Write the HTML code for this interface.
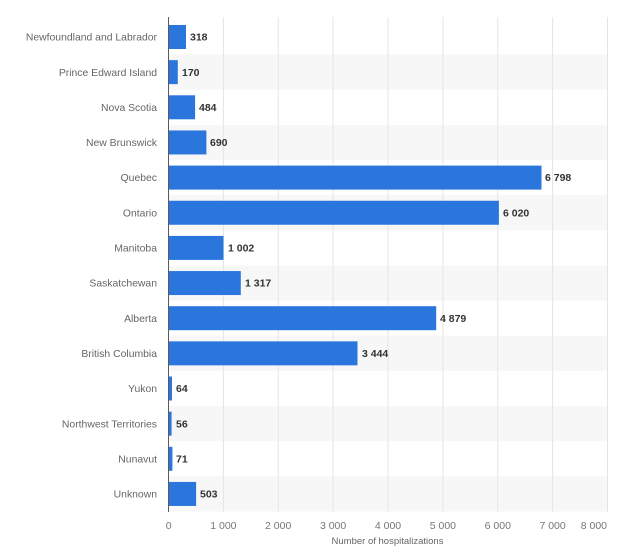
<!DOCTYPE html>
<html>
<head>
<meta charset="utf-8">
<style>
  html,body{margin:0;padding:0;background:#fff;}
  svg{display:block;}
  text{font-family:"Liberation Sans",Arial,sans-serif;}
</style>
</head>
<body>
<svg width="628" height="552" viewBox="0 0 628 552" xmlns="http://www.w3.org/2000/svg">
  <rect x="0" y="0" width="628" height="552" fill="#ffffff"/>
  <!-- alternating bands (odd rows) -->
  <g fill="#f7f7f7">
    <rect x="168.5" y="54.55" width="439" height="35.15"/>
    <rect x="168.5" y="124.85" width="439" height="35.15"/>
    <rect x="168.5" y="195.15" width="439" height="35.15"/>
    <rect x="168.5" y="265.45" width="439" height="35.15"/>
    <rect x="168.5" y="335.75" width="439" height="35.15"/>
    <rect x="168.5" y="406.05" width="439" height="35.15"/>
    <rect x="168.5" y="476.35" width="439" height="35.15"/>
  </g>
  <!-- gridlines -->
  <g stroke="#e4e4e4" stroke-width="1">
    <line x1="223.4" y1="17" x2="223.4" y2="512"/>
    <line x1="278.2" y1="17" x2="278.2" y2="512"/>
    <line x1="333.1" y1="17" x2="333.1" y2="512"/>
    <line x1="388" y1="17" x2="388" y2="512"/>
    <line x1="442.9" y1="17" x2="442.9" y2="512"/>
    <line x1="497.8" y1="17" x2="497.8" y2="512"/>
    <line x1="552.6" y1="17" x2="552.6" y2="512"/>
    <line x1="607.5" y1="17" x2="607.5" y2="512"/>
  </g>
  <!-- bars -->
  <g fill="#2a76dd">
    <rect x="168.5" y="25" width="17.5" height="24"/>
    <rect x="168.5" y="60.15" width="9.3" height="24"/>
    <rect x="168.5" y="95.3" width="26.6" height="24"/>
    <rect x="168.5" y="130.45" width="37.9" height="24"/>
    <rect x="168.5" y="165.6" width="373" height="24"/>
    <rect x="168.5" y="200.75" width="330.4" height="24"/>
    <rect x="168.5" y="235.9" width="55" height="24"/>
    <rect x="168.5" y="271.05" width="72.3" height="24"/>
    <rect x="168.5" y="306.2" width="267.7" height="24"/>
    <rect x="168.5" y="341.35" width="189" height="24"/>
    <rect x="168.5" y="376.5" width="3.5" height="24"/>
    <rect x="168.5" y="411.65" width="3.1" height="24"/>
    <rect x="168.5" y="446.8" width="3.9" height="24"/>
    <rect x="168.5" y="481.95" width="27.6" height="24"/>
  </g>
  <!-- axis line -->
  <line x1="168.5" y1="17" x2="168.5" y2="512" stroke="#5a5a5a" stroke-width="1"/>
  <!-- category labels -->
  <g font-size="10.4" fill="#666" text-anchor="end">
    <text x="157" y="40.6">Newfoundland and Labrador</text>
    <text x="157" y="75.75">Prince Edward Island</text>
    <text x="157" y="110.9">Nova Scotia</text>
    <text x="157" y="146.05">New Brunswick</text>
    <text x="157" y="181.2">Quebec</text>
    <text x="157" y="216.35">Ontario</text>
    <text x="157" y="251.5">Manitoba</text>
    <text x="157" y="286.65">Saskatchewan</text>
    <text x="157" y="321.8">Alberta</text>
    <text x="157" y="356.95">British Columbia</text>
    <text x="157" y="392.1">Yukon</text>
    <text x="157" y="427.25">Northwest Territories</text>
    <text x="157" y="462.4">Nunavut</text>
    <text x="157" y="497.55">Unknown</text>
  </g>
  <!-- value labels -->
  <g font-size="10.5" font-weight="bold" fill="#333">
    <text x="190" y="40.6">318</text>
    <text x="182" y="75.75">170</text>
    <text x="199" y="110.9">484</text>
    <text x="210" y="146.05">690</text>
    <text x="545" y="181.2">6 798</text>
    <text x="503" y="216.35">6 020</text>
    <text x="228" y="251.5">1 002</text>
    <text x="245" y="286.65">1 317</text>
    <text x="440" y="321.8">4 879</text>
    <text x="362" y="356.95">3 444</text>
    <text x="176" y="392.1">64</text>
    <text x="176" y="427.25">56</text>
    <text x="176" y="462.4">71</text>
    <text x="200" y="497.55">503</text>
  </g>
  <!-- tick labels -->
  <g font-size="10.5" fill="#777" text-anchor="middle">
    <text x="168.7" y="529">0</text>
    <text x="223.4" y="529">1 000</text>
    <text x="278.2" y="529">2 000</text>
    <text x="333.1" y="529">3 000</text>
    <text x="388" y="529">4 000</text>
    <text x="442.9" y="529">5 000</text>
    <text x="497.8" y="529">6 000</text>
    <text x="552.6" y="529">7 000</text>
    <text x="607" y="529" text-anchor="end">8 000</text>
  </g>
  <text x="387.5" y="544" font-size="9.5" fill="#666" text-anchor="middle">Number of hospitalizations</text>
</svg>
</body>
</html>
